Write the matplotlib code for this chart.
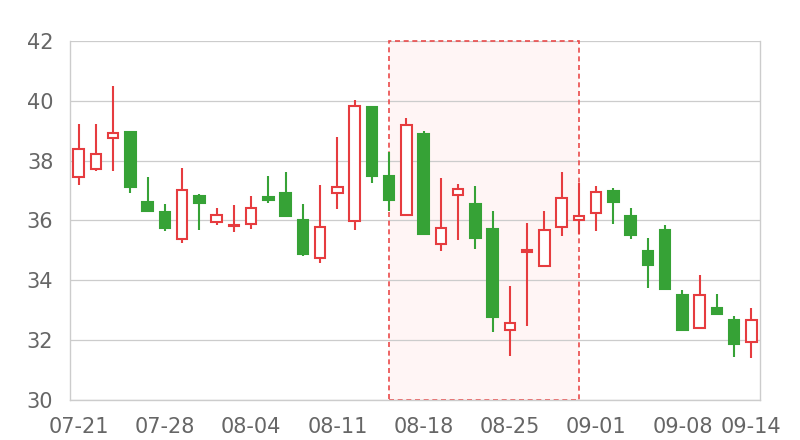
import matplotlib
matplotlib.use("Agg")
import matplotlib.pyplot as plt
from matplotlib.patches import Rectangle

dates = ["07-21", "07-22", "07-23", "07-24", "07-25",
         "07-28", "07-29", "07-30", "07-31", "08-01",
         "08-04", "08-05", "08-06", "08-07", "08-08",
         "08-11", "08-12", "08-13", "08-14", "08-15",
         "08-18", "08-19", "08-20", "08-21", "08-22",
         "08-25", "08-26", "08-27", "08-28", "08-29",
         "09-01", "09-02", "09-03", "09-04", "09-05",
         "09-08", "09-09", "09-10", "09-11", "09-14"]

opens = [37.47, 37.72, 38.76, 38.96, 36.61, 36.28, 35.37, 36.83, 35.94, 35.82,
         35.87, 36.77, 36.91, 36.00, 34.76, 36.93, 35.97, 39.78, 37.50, 36.19,
         38.89, 35.22, 36.84, 36.56, 35.70, 32.34, 34.96, 34.48, 35.78, 36.03,
         36.26, 37.00, 36.14, 34.98, 35.67, 33.51, 32.39, 33.09, 32.69, 31.94]
closes = [38.39, 38.22, 38.93, 37.13, 36.31, 35.74, 37.01, 36.57, 36.19, 35.86,
          36.42, 36.67, 36.16, 34.89, 35.77, 37.13, 39.83, 37.49, 36.70, 39.20,
          35.56, 35.76, 37.04, 35.40, 32.78, 32.59, 35.00, 35.69, 36.76, 36.14,
          36.94, 36.61, 35.50, 34.50, 33.72, 32.33, 33.52, 32.86, 31.88, 32.67]
highs = [39.22, 39.24, 40.50, 38.96, 37.44, 36.56, 37.74, 36.90, 36.42, 36.53,
         36.82, 37.49, 37.61, 36.54, 37.17, 38.78, 40.02, 39.80, 38.29, 39.44,
         38.98, 37.43, 37.22, 37.14, 36.31, 33.80, 35.92, 36.33, 37.62, 37.24,
         37.14, 37.09, 36.43, 35.40, 35.84, 33.68, 34.19, 33.53, 32.81, 33.08]
lows = [37.17, 37.67, 37.64, 36.92, 36.28, 35.66, 35.26, 35.67, 35.86, 35.61,
        35.71, 36.58, 36.14, 34.80, 34.58, 36.37, 35.67, 37.24, 36.33, 36.16,
        35.52, 34.97, 35.36, 35.04, 32.26, 31.47, 32.47, 34.46, 35.48, 35.56,
        35.64, 35.88, 35.39, 33.76, 33.68, 32.31, 32.36, 32.86, 31.44, 31.41]

highlight_start = "08-14"
highlight_end = "08-29"
y_ticks = [30, 32, 34, 36, 38, 40, 42]
label_idx = [0, 5, 10, 15, 20, 25, 30, 35, 39]

UP = "#e63c3f"
DOWN = "#36a236"

fig = plt.figure(figsize=(8, 4.4), dpi=100)
ax = fig.add_axes([70 / 800, 40 / 440, 690 / 800, 359 / 440])

n = len(dates)
ax.set_xlim(-0.5, n - 0.5)
ax.set_ylim(30, 42)

# highlighted area
i0, i1 = dates.index(highlight_start), dates.index(highlight_end)
ax.add_patch(Rectangle((i0, 30), i1 - i0, 12, facecolor="#fff5f5",
                       edgecolor="none", zorder=0))
ax.add_patch(Rectangle((i0, 30), i1 - i0, 12, facecolor="none",
                       edgecolor="#ea4a4a", linestyle=(0, (3, 2.2)),
                       linewidth=1.2, zorder=1.5, clip_on=False))

ax.set_yticks(y_ticks)
ax.yaxis.grid(True, color="#cccccc", linewidth=0.9, zorder=1)
ax.set_axisbelow(True)

w = 0.62
for i in range(n):
    o, c, h, l = opens[i], closes[i], highs[i], lows[i]
    up = c >= o
    col = UP if up else DOWN
    ax.plot([i, i], [l, h], color=col, linewidth=1.5, zorder=2,
            solid_capstyle="butt")
    bottom = min(o, c)
    height = max(abs(c - o), 0.02)
    ax.add_patch(Rectangle((i - w / 2, bottom), w, height,
                           facecolor="white" if up else col,
                           edgecolor=col, linewidth=1.5, zorder=3))

ax.set_xticks(label_idx)
ax.set_xticklabels([dates[i] for i in label_idx])

for s in ["left", "right", "bottom", "top"]:
    ax.spines[s].set_color("#cccccc")
    ax.spines[s].set_linewidth(1.0)
ax.spines["top"].set_visible(False)

ax.tick_params(axis="both", length=0, labelsize=15, labelcolor="#666666")
ax.tick_params(axis="y", pad=12)
ax.tick_params(axis="x", pad=12)

fig.savefig("out.png", dpi=100)
